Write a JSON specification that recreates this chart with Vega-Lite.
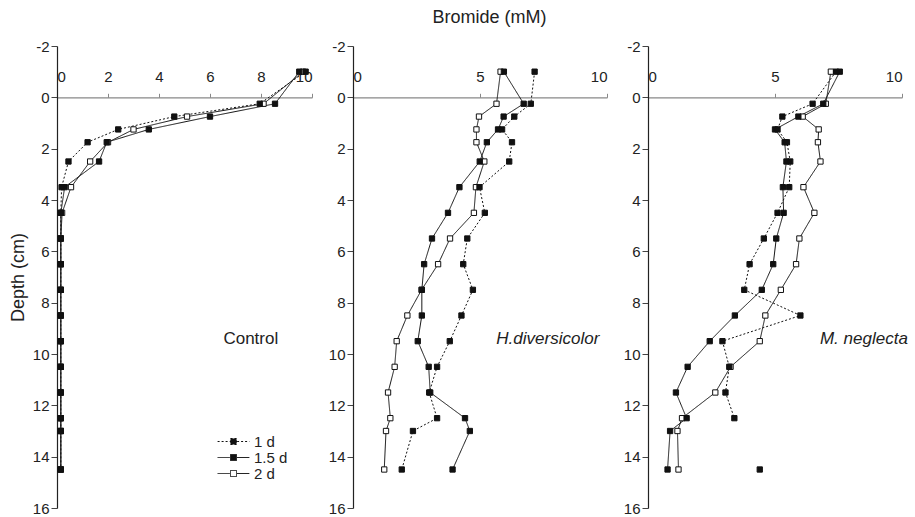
{
  "$schema": "https://vega.github.io/schema/vega-lite/v6.json",
  "padding": {"left": 9, "top": 9, "right": 5, "bottom": 0},
  "background": "white",
  "title": {"text": "Bromide (mM)", "fontSize": 18, "font": "Liberation Sans", "fontWeight": "normal", "color": "#222", "anchor": "middle", "dx": 31, "offset": 12},
  "datasets": {
    "d": [
      {"panel": "Control", "series": "2 d", "depth": -1, "br": 9.65},
      {"panel": "Control", "series": "2 d", "depth": 0.25, "br": 8.1},
      {"panel": "Control", "series": "2 d", "depth": 0.75, "br": 5.1},
      {"panel": "Control", "series": "2 d", "depth": 1.25, "br": 3.0},
      {"panel": "Control", "series": "2 d", "depth": 1.75, "br": 2.0},
      {"panel": "Control", "series": "2 d", "depth": 2.5, "br": 1.3},
      {"panel": "Control", "series": "2 d", "depth": 3.5, "br": 0.55},
      {"panel": "Control", "series": "2 d", "depth": 4.5, "br": 0.2},
      {"panel": "Control", "series": "2 d", "depth": 5.5, "br": 0.15},
      {"panel": "Control", "series": "2 d", "depth": 6.5, "br": 0.15},
      {"panel": "Control", "series": "2 d", "depth": 7.5, "br": 0.15},
      {"panel": "Control", "series": "2 d", "depth": 8.5, "br": 0.15},
      {"panel": "Control", "series": "2 d", "depth": 9.5, "br": 0.15},
      {"panel": "Control", "series": "2 d", "depth": 10.5, "br": 0.15},
      {"panel": "Control", "series": "2 d", "depth": 11.5, "br": 0.15},
      {"panel": "Control", "series": "2 d", "depth": 12.5, "br": 0.15},
      {"panel": "Control", "series": "2 d", "depth": 13, "br": 0.15},
      {"panel": "Control", "series": "2 d", "depth": 14.5, "br": 0.15},
      {"panel": "Control", "series": "1.5 d", "depth": -1, "br": 9.5},
      {"panel": "Control", "series": "1.5 d", "depth": 0.25, "br": 8.55},
      {"panel": "Control", "series": "1.5 d", "depth": 0.75, "br": 6.0},
      {"panel": "Control", "series": "1.5 d", "depth": 1.25, "br": 3.6},
      {"panel": "Control", "series": "1.5 d", "depth": 1.75, "br": 1.95},
      {"panel": "Control", "series": "1.5 d", "depth": 2.5, "br": 1.65},
      {"panel": "Control", "series": "1.5 d", "depth": 3.5, "br": 0.3},
      {"panel": "Control", "series": "1.5 d", "depth": 4.5, "br": 0.15},
      {"panel": "Control", "series": "1.5 d", "depth": 5.5, "br": 0.15},
      {"panel": "Control", "series": "1.5 d", "depth": 6.5, "br": 0.15},
      {"panel": "Control", "series": "1.5 d", "depth": 7.5, "br": 0.15},
      {"panel": "Control", "series": "1.5 d", "depth": 8.5, "br": 0.15},
      {"panel": "Control", "series": "1.5 d", "depth": 9.5, "br": 0.15},
      {"panel": "Control", "series": "1.5 d", "depth": 10.5, "br": 0.15},
      {"panel": "Control", "series": "1.5 d", "depth": 11.5, "br": 0.15},
      {"panel": "Control", "series": "1.5 d", "depth": 12.5, "br": 0.15},
      {"panel": "Control", "series": "1.5 d", "depth": 13, "br": 0.15},
      {"panel": "Control", "series": "1.5 d", "depth": 14.5, "br": 0.15},
      {"panel": "Control", "series": "1 d", "depth": -1, "br": 9.75},
      {"panel": "Control", "series": "1 d", "depth": 0.25, "br": 7.95},
      {"panel": "Control", "series": "1 d", "depth": 0.75, "br": 4.6},
      {"panel": "Control", "series": "1 d", "depth": 1.25, "br": 2.4},
      {"panel": "Control", "series": "1 d", "depth": 1.75, "br": 1.2},
      {"panel": "Control", "series": "1 d", "depth": 2.5, "br": 0.45},
      {"panel": "Control", "series": "1 d", "depth": 3.5, "br": 0.18},
      {"panel": "Control", "series": "1 d", "depth": 4.5, "br": 0.15},
      {"panel": "Control", "series": "1 d", "depth": 5.5, "br": 0.15},
      {"panel": "Control", "series": "1 d", "depth": 6.5, "br": 0.15},
      {"panel": "Control", "series": "1 d", "depth": 7.5, "br": 0.15},
      {"panel": "Control", "series": "1 d", "depth": 8.5, "br": 0.15},
      {"panel": "Control", "series": "1 d", "depth": 9.5, "br": 0.15},
      {"panel": "Control", "series": "1 d", "depth": 10.5, "br": 0.15},
      {"panel": "Control", "series": "1 d", "depth": 11.5, "br": 0.15},
      {"panel": "Control", "series": "1 d", "depth": 12.5, "br": 0.15},
      {"panel": "Control", "series": "1 d", "depth": 13, "br": 0.15},
      {"panel": "Control", "series": "1 d", "depth": 14.5, "br": 0.15},

      {"panel": "H", "series": "2 d", "depth": -1, "br": 5.81},
      {"panel": "H", "series": "2 d", "depth": 0.25, "br": 5.65},
      {"panel": "H", "series": "2 d", "depth": 0.75, "br": 4.96},
      {"panel": "H", "series": "2 d", "depth": 1.25, "br": 4.86},
      {"panel": "H", "series": "2 d", "depth": 1.75, "br": 4.86},
      {"panel": "H", "series": "2 d", "depth": 2.5, "br": 5.17},
      {"panel": "H", "series": "2 d", "depth": 3.5, "br": 4.84},
      {"panel": "H", "series": "2 d", "depth": 4.5, "br": 4.76},
      {"panel": "H", "series": "2 d", "depth": 5.5, "br": 3.82},
      {"panel": "H", "series": "2 d", "depth": 6.5, "br": 3.35},
      {"panel": "H", "series": "2 d", "depth": 7.5, "br": 2.7},
      {"panel": "H", "series": "2 d", "depth": 8.5, "br": 2.14},
      {"panel": "H", "series": "2 d", "depth": 9.5, "br": 1.72},
      {"panel": "H", "series": "2 d", "depth": 10.5, "br": 1.64},
      {"panel": "H", "series": "2 d", "depth": 11.5, "br": 1.38},
      {"panel": "H", "series": "2 d", "depth": 12.5, "br": 1.47},
      {"panel": "H", "series": "2 d", "depth": 13, "br": 1.3},
      {"panel": "H", "series": "2 d", "depth": 14.5, "br": 1.23},
      {"panel": "H", "series": "1.5 d", "depth": -1, "br": 5.94},
      {"panel": "H", "series": "1.5 d", "depth": 0.25, "br": 6.72},
      {"panel": "H", "series": "1.5 d", "depth": 0.75, "br": 5.93},
      {"panel": "H", "series": "1.5 d", "depth": 1.25, "br": 5.71},
      {"panel": "H", "series": "1.5 d", "depth": 1.75, "br": 5.27},
      {"panel": "H", "series": "1.5 d", "depth": 2.5, "br": 4.99},
      {"panel": "H", "series": "1.5 d", "depth": 3.5, "br": 4.19},
      {"panel": "H", "series": "1.5 d", "depth": 4.5, "br": 3.74},
      {"panel": "H", "series": "1.5 d", "depth": 5.5, "br": 3.11},
      {"panel": "H", "series": "1.5 d", "depth": 6.5, "br": 2.8},
      {"panel": "H", "series": "1.5 d", "depth": 7.5, "br": 2.71},
      {"panel": "H", "series": "1.5 d", "depth": 8.5, "br": 2.71},
      {"panel": "H", "series": "1.5 d", "depth": 9.5, "br": 2.55},
      {"panel": "H", "series": "1.5 d", "depth": 10.5, "br": 2.98},
      {"panel": "H", "series": "1.5 d", "depth": 11.5, "br": 3.04},
      {"panel": "H", "series": "1.5 d", "depth": 12.5, "br": 4.41},
      {"panel": "H", "series": "1.5 d", "depth": 13, "br": 4.6},
      {"panel": "H", "series": "1.5 d", "depth": 14.5, "br": 3.92},
      {"panel": "H", "series": "1 d", "depth": -1, "br": 7.15},
      {"panel": "H", "series": "1 d", "depth": 0.25, "br": 7.0},
      {"panel": "H", "series": "1 d", "depth": 0.75, "br": 6.35},
      {"panel": "H", "series": "1 d", "depth": 1.25, "br": 5.87},
      {"panel": "H", "series": "1 d", "depth": 1.75, "br": 6.26},
      {"panel": "H", "series": "1 d", "depth": 2.5, "br": 6.15},
      {"panel": "H", "series": "1 d", "depth": 3.5, "br": 4.98},
      {"panel": "H", "series": "1 d", "depth": 4.5, "br": 5.19},
      {"panel": "H", "series": "1 d", "depth": 5.5, "br": 4.5},
      {"panel": "H", "series": "1 d", "depth": 6.5, "br": 4.34},
      {"panel": "H", "series": "1 d", "depth": 7.5, "br": 4.72},
      {"panel": "H", "series": "1 d", "depth": 8.5, "br": 4.27},
      {"panel": "H", "series": "1 d", "depth": 9.5, "br": 3.81},
      {"panel": "H", "series": "1 d", "depth": 10.5, "br": 3.31},
      {"panel": "H", "series": "1 d", "depth": 11.5, "br": 3.0},
      {"panel": "H", "series": "1 d", "depth": 12.5, "br": 3.31},
      {"panel": "H", "series": "1 d", "depth": 13, "br": 2.36},
      {"panel": "H", "series": "1 d", "depth": 14.5, "br": 1.92},

      {"panel": "M", "series": "2 d", "depth": -1, "br": 7.2},
      {"panel": "M", "series": "2 d", "depth": 0.25, "br": 7.0},
      {"panel": "M", "series": "2 d", "depth": 0.75, "br": 6.09},
      {"panel": "M", "series": "2 d", "depth": 1.25, "br": 6.72},
      {"panel": "M", "series": "2 d", "depth": 1.75, "br": 6.69},
      {"panel": "M", "series": "2 d", "depth": 2.5, "br": 6.79},
      {"panel": "M", "series": "2 d", "depth": 3.5, "br": 6.12},
      {"panel": "M", "series": "2 d", "depth": 4.5, "br": 6.55},
      {"panel": "M", "series": "2 d", "depth": 5.5, "br": 5.96},
      {"panel": "M", "series": "2 d", "depth": 6.5, "br": 5.83},
      {"panel": "M", "series": "2 d", "depth": 7.5, "br": 5.23},
      {"panel": "M", "series": "2 d", "depth": 8.5, "br": 4.62},
      {"panel": "M", "series": "2 d", "depth": 9.5, "br": 4.4},
      {"panel": "M", "series": "2 d", "depth": 10.5, "br": 3.25},
      {"panel": "M", "series": "2 d", "depth": 11.5, "br": 2.65},
      {"panel": "M", "series": "2 d", "depth": 12.5, "br": 1.34},
      {"panel": "M", "series": "2 d", "depth": 13, "br": 1.16},
      {"panel": "M", "series": "2 d", "depth": 14.5, "br": 1.2},
      {"panel": "M", "series": "1.5 d", "depth": -1, "br": 7.55},
      {"panel": "M", "series": "1.5 d", "depth": 0.25, "br": 6.9},
      {"panel": "M", "series": "1.5 d", "depth": 0.75, "br": 5.92},
      {"panel": "M", "series": "1.5 d", "depth": 1.25, "br": 5.0},
      {"panel": "M", "series": "1.5 d", "depth": 1.75, "br": 5.38},
      {"panel": "M", "series": "1.5 d", "depth": 2.5, "br": 5.45},
      {"panel": "M", "series": "1.5 d", "depth": 3.5, "br": 5.31},
      {"panel": "M", "series": "1.5 d", "depth": 4.5, "br": 5.34},
      {"panel": "M", "series": "1.5 d", "depth": 5.5, "br": 5.05},
      {"panel": "M", "series": "1.5 d", "depth": 6.5, "br": 4.93},
      {"panel": "M", "series": "1.5 d", "depth": 7.5, "br": 4.48},
      {"panel": "M", "series": "1.5 d", "depth": 8.5, "br": 3.42},
      {"panel": "M", "series": "1.5 d", "depth": 9.5, "br": 2.43},
      {"panel": "M", "series": "1.5 d", "depth": 10.5, "br": 1.56},
      {"panel": "M", "series": "1.5 d", "depth": 11.5, "br": 1.1},
      {"panel": "M", "series": "1.5 d", "depth": 12.5, "br": 1.52},
      {"panel": "M", "series": "1.5 d", "depth": 13, "br": 0.87},
      {"panel": "M", "series": "1.5 d", "depth": 14.5, "br": 0.77},
      {"panel": "M", "series": "1 d", "depth": -1, "br": 7.4},
      {"panel": "M", "series": "1 d", "depth": 0.25, "br": 6.48},
      {"panel": "M", "series": "1 d", "depth": 0.75, "br": 5.29},
      {"panel": "M", "series": "1 d", "depth": 1.25, "br": 5.1},
      {"panel": "M", "series": "1 d", "depth": 1.75, "br": 5.47},
      {"panel": "M", "series": "1 d", "depth": 2.5, "br": 5.6},
      {"panel": "M", "series": "1 d", "depth": 3.5, "br": 5.56},
      {"panel": "M", "series": "1 d", "depth": 4.5, "br": 5.1},
      {"panel": "M", "series": "1 d", "depth": 5.5, "br": 4.56},
      {"panel": "M", "series": "1 d", "depth": 6.5, "br": 4.0},
      {"panel": "M", "series": "1 d", "depth": 7.5, "br": 3.79},
      {"panel": "M", "series": "1 d", "depth": 8.5, "br": 6.0},
      {"panel": "M", "series": "1 d", "depth": 9.5, "br": 2.93},
      {"panel": "M", "series": "1 d", "depth": 10.5, "br": 3.2},
      {"panel": "M", "series": "1 d", "depth": 11.5, "br": 3.05},
      {"panel": "M", "series": "1 d", "depth": 12.5, "br": 3.4},
      {"panel": "M", "series": "1 d", "depth": 13, "br": null},
      {"panel": "M", "series": "1 d", "depth": 14.5, "br": 4.4}
    ]
  },
  "bounds": "flush",
  "spacing": 41,
  "resolve": {"legend": {"strokeDash": "independent"}},
  "hconcat": [
    {
      "width": 255,
      "height": 462,
      "layer": [
        {
          "data": {"name": "d"},
          "transform": [{"filter": "datum.panel === 'Control'"}],
          "mark": {"type": "line", "color": "#111", "strokeWidth": 1, "invalid": "break-paths-filter-domains"},
          "encoding": {
            "x": {"field": "br", "type": "quantitative", "scale": {"domain": [0, 10], "nice": false},
              "axis": {"orient": "top", "offset": -51.3, "values": [0, 2, 4, 6, 8, 10], "title": null, "tickSize": 4, "labelPadding": 9, "domainColor": "#888", "tickColor": "#888"}},
            "y": {"field": "depth", "type": "quantitative", "scale": {"domain": [-2, 16], "reverse": true, "nice": false},
              "axis": {"values": [-2, 0, 2, 4, 6, 8, 10, 12, 14, 16], "title": "Depth (cm)", "labelExpr": "datum.value < 0 ? '-' + abs(datum.value) : '' + datum.value", "tickSize": 6, "labelPadding": 2, "titlePadding": 5}},
            "order": {"field": "depth", "type": "quantitative"},
            "strokeDash": {"field": "series", "type": "nominal", "scale": {"domain": ["1 d", "1.5 d", "2 d"], "range": [[2, 2], [1, 0], [1, 0]]},
              "legend": {"orient": "none", "legendX": 169, "legendY": 388, "title": null, "symbolType": "M-5.3,0H-1.2M1.2,0H5.3M-1,-1H1V1H-1Z", "symbolSize": 36, "symbolStrokeWidth": 1, "symbolStrokeColor": "#111", "labelFontSize": 15, "labelFont": "Liberation Sans", "labelColor": "#222", "labelOffset": 13, "rowPadding": 0,
                "encode": {"symbols": {"update": {"fill": {"signal": "datum.value === '2 d' ? 'white' : '#111'"}, "stroke": {"value": "#111"}, "opacity": {"value": 1}}}}}}
          }
        },
        {
          "data": {"name": "d"},
          "transform": [{"filter": "datum.panel === 'Control'"}],
          "mark": {"type": "point", "shape": "square", "size": 28, "filled": true, "stroke": "#111", "strokeWidth": 1, "opacity": 1},
          "encoding": {
            "x": {"field": "br", "type": "quantitative"},
            "y": {"field": "depth", "type": "quantitative"},
            "fill": {"field": "series", "type": "nominal", "scale": {"domain": ["1 d", "1.5 d", "2 d"], "range": ["#111", "#111", "white"]}, "legend": null}
          }
        },
        {
          "data": {"values": [{"label": "Control", "br": 7.6, "depth": 9.4}]},
          "mark": {"type": "text", "fontSize": 17, "font": "Liberation Sans", "color": "#222", "align": "center", "baseline": "middle"},
          "encoding": {
            "x": {"field": "br", "type": "quantitative"},
            "y": {"field": "depth", "type": "quantitative"},
            "text": {"field": "label"}
          }
        }
      ]
    },
    {
      "width": 254,
      "height": 462,
      "layer": [
        {
          "data": {"name": "d"},
          "transform": [{"filter": "datum.panel === 'H'"}],
          "mark": {"type": "line", "color": "#111", "strokeWidth": 1, "invalid": "break-paths-filter-domains"},
          "encoding": {
            "x": {"field": "br", "type": "quantitative", "scale": {"domain": [0, 10], "nice": false},
              "axis": {"orient": "top", "offset": -51.3, "values": [0, 5, 10], "title": null, "tickSize": 4, "labelPadding": 9, "domainColor": "#888", "tickColor": "#888"}},
            "y": {"field": "depth", "type": "quantitative", "scale": {"domain": [-2, 16], "reverse": true, "nice": false},
              "axis": {"values": [-2, 0, 2, 4, 6, 8, 10, 12, 14, 16], "title": null, "labelExpr": "datum.value < 0 ? '-' + abs(datum.value) : '' + datum.value", "tickSize": 6, "labelPadding": 2}},
            "order": {"field": "depth", "type": "quantitative"},
            "strokeDash": {"field": "series", "type": "nominal", "scale": {"domain": ["1 d", "1.5 d", "2 d"], "range": [[2, 2], [1, 0], [1, 0]]}, "legend": null}
          }
        },
        {
          "data": {"name": "d"},
          "transform": [{"filter": "datum.panel === 'H'"}],
          "mark": {"type": "point", "shape": "square", "size": 28, "filled": true, "stroke": "#111", "strokeWidth": 1, "opacity": 1},
          "encoding": {
            "x": {"field": "br", "type": "quantitative"},
            "y": {"field": "depth", "type": "quantitative"},
            "fill": {"field": "series", "type": "nominal", "scale": {"domain": ["1 d", "1.5 d", "2 d"], "range": ["#111", "#111", "white"]}, "legend": null}
          }
        },
        {
          "data": {"values": [{"label": "H.diversicolor", "br": 7.67, "depth": 9.4}]},
          "mark": {"type": "text", "fontSize": 17, "font": "Liberation Sans", "fontStyle": "italic", "color": "#222", "align": "center", "baseline": "middle"},
          "encoding": {
            "x": {"field": "br", "type": "quantitative"},
            "y": {"field": "depth", "type": "quantitative"},
            "text": {"field": "label"}
          }
        }
      ]
    },
    {
      "width": 254,
      "height": 462,
      "layer": [
        {
          "data": {"name": "d"},
          "transform": [{"filter": "datum.panel === 'M'"}],
          "mark": {"type": "line", "color": "#111", "strokeWidth": 1, "invalid": "break-paths-filter-domains"},
          "encoding": {
            "x": {"field": "br", "type": "quantitative", "scale": {"domain": [0, 10], "nice": false},
              "axis": {"orient": "top", "offset": -51.3, "values": [0, 5, 10], "title": null, "tickSize": 4, "labelPadding": 9, "domainColor": "#888", "tickColor": "#888"}},
            "y": {"field": "depth", "type": "quantitative", "scale": {"domain": [-2, 16], "reverse": true, "nice": false},
              "axis": {"values": [-2, 0, 2, 4, 6, 8, 10, 12, 14, 16], "title": null, "labelExpr": "datum.value < 0 ? '-' + abs(datum.value) : '' + datum.value", "tickSize": 6, "labelPadding": 2}},
            "order": {"field": "depth", "type": "quantitative"},
            "strokeDash": {"field": "series", "type": "nominal", "scale": {"domain": ["1 d", "1.5 d", "2 d"], "range": [[2, 2], [1, 0], [1, 0]]}, "legend": null}
          }
        },
        {
          "data": {"name": "d"},
          "transform": [{"filter": "datum.panel === 'M'"}],
          "mark": {"type": "point", "shape": "square", "size": 28, "filled": true, "stroke": "#111", "strokeWidth": 1, "opacity": 1},
          "encoding": {
            "x": {"field": "br", "type": "quantitative"},
            "y": {"field": "depth", "type": "quantitative"},
            "fill": {"field": "series", "type": "nominal", "scale": {"domain": ["1 d", "1.5 d", "2 d"], "range": ["#111", "#111", "white"]}, "legend": null}
          }
        },
        {
          "data": {"values": [{"label": "M. neglecta", "br": 8.5, "depth": 9.4}]},
          "mark": {"type": "text", "fontSize": 17, "font": "Liberation Sans", "fontStyle": "italic", "color": "#222", "align": "center", "baseline": "middle"},
          "encoding": {
            "x": {"field": "br", "type": "quantitative"},
            "y": {"field": "depth", "type": "quantitative"},
            "text": {"field": "label"}
          }
        }
      ]
    }
  ],
  "config": {
    "view": {"stroke": null},
    "font": "Liberation Sans",
    "axis": {"grid": false, "labelFont": "Liberation Sans", "labelFontSize": 15, "labelColor": "#222", "domainColor": "#222", "domainWidth": 1.2, "tickColor": "#444", "titleFont": "Liberation Sans", "titleFontWeight": "normal", "titleFontSize": 18, "titleColor": "#222"}
  }
}
